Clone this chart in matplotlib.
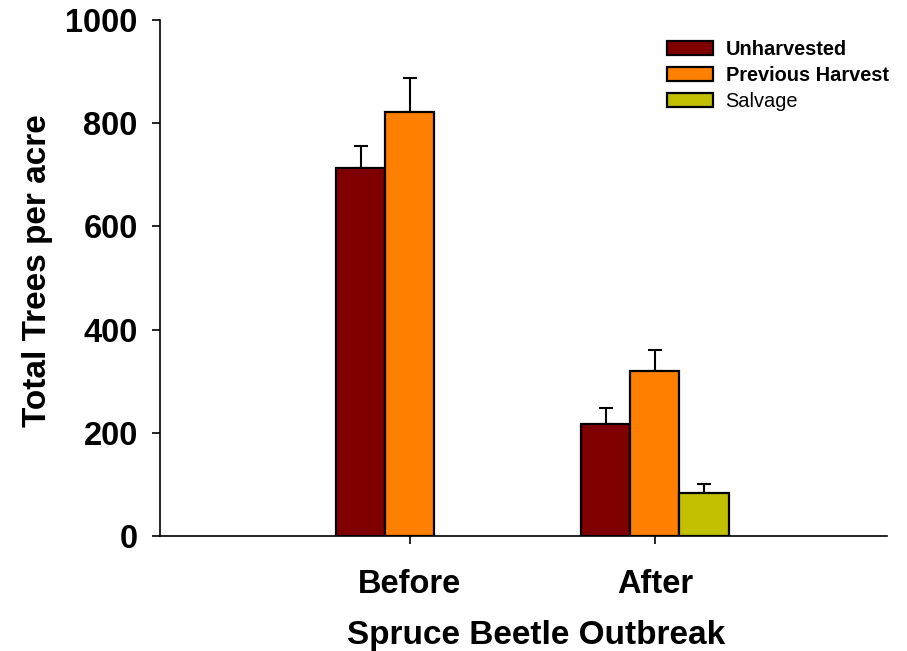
import numpy as np
import matplotlib.pyplot as plt

plt.rcParams['font.family'] = ['Liberation Sans', 'DejaVu Sans']

# data
periods = ['Before', 'After']
series = ['Unharvested', 'Previous Harvest', 'Salvage']
unharvested = [713, 217]
unharvested_err = [43, 31]
prev_harvest = [822, 320]
prev_harvest_err = [66, 40]
salvage = [np.nan, 83]
salvage_err = [np.nan, 18]

colors = ['#800000', '#FF8000', '#C0C000']
values = [unharvested, prev_harvest, salvage]
errors = [unharvested_err, prev_harvest_err, salvage_err]

fig = plt.figure(figsize=(9.07, 6.51), dpi=100)
ax = fig.add_axes([0.1764, 0.1767, 0.8016, 0.7926])

x = np.arange(len(periods))
width = 0.2
for i, (name, vals, errs, col) in enumerate(zip(series, values, errors, colors)):
    pos = x + (i - 1) * width
    ax.bar(pos, vals, width, color=col, edgecolor='black', linewidth=1.6,
           label=name, zorder=2)
    ax.errorbar(pos, vals, yerr=[np.zeros(len(errs)), errs], fmt='none',
                ecolor='black', elinewidth=1.5, capsize=5, capthick=1.5, zorder=1)

ax.set_xlim(-1.02, 1.947)
ax.set_ylim(0, 1000)
ax.set_yticks([0, 200, 400, 600, 800, 1000])
ax.set_xticks(x)
ax.set_xticklabels(periods)
ax.tick_params(axis='both', direction='out', length=6, width=1.2,
               labelsize=23.5)
ax.tick_params(axis='x', pad=18)
ax.tick_params(axis='y', pad=10)
for lbl in ax.get_xticklabels() + ax.get_yticklabels():
    lbl.set_fontweight('bold')

for side in ['top', 'right']:
    ax.spines[side].set_visible(False)
for side in ['left', 'bottom']:
    ax.spines[side].set_linewidth(1.2)

ax.set_ylabel('Total Trees per acre', fontsize=24, fontweight='bold', labelpad=9)
ax.yaxis.label.set_y(0.514)
ax.set_xlabel('Spruce Beetle Outbreak', fontsize=24, fontweight='bold', labelpad=14)
ax.xaxis.label.set_x(0.518)

leg = ax.legend(loc='upper right', frameon=False, fontsize=14.4,
                handlelength=2.3, handleheight=0.7, labelspacing=0.35,
                handletextpad=0.65, borderaxespad=0, borderpad=0,
                bbox_to_anchor=(1.002, 0.962))
for txt in leg.get_texts()[:2]:
    txt.set_fontweight('bold')

plt.savefig('out.png', dpi=100)
